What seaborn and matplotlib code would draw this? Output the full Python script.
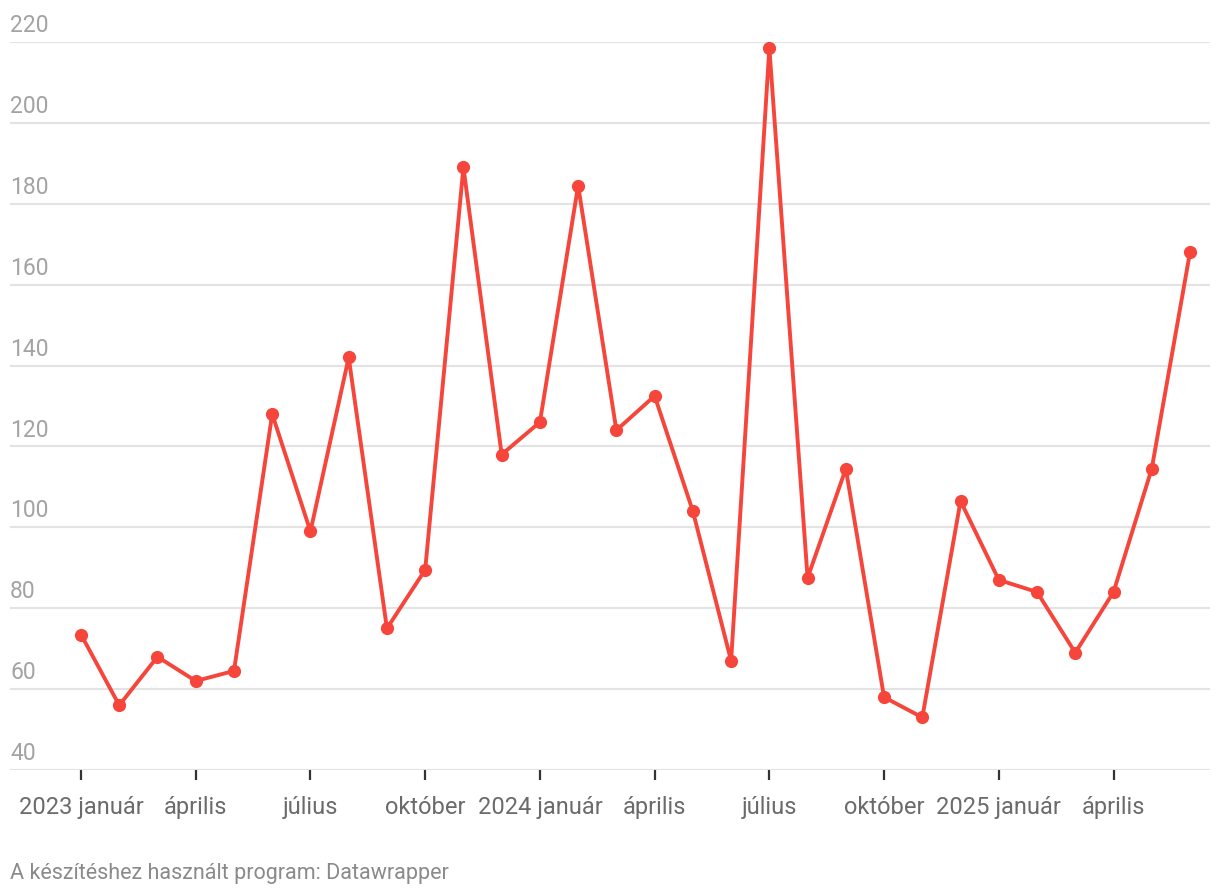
import numpy as np
import pandas as pd
import matplotlib.pyplot as plt
import seaborn as sns

# monthly values, 2023 Jan .. 2025 Jun
months = pd.date_range('2023-01-01', periods=30, freq='MS')
values = [73.5, 56, 68, 62, 64.5, 128, 99, 142, 75, 89.5,
          189, 118, 126, 184.5, 124, 132.5, 104, 67, 218.5, 87.5,
          114.5, 58, 53, 106.5, 87, 84, 69, 84, 114.5, 168]
tick_pos = [0, 3, 6, 9, 12, 15, 18, 21, 24, 27]
tick_labels = ['2023 január', 'április', 'július', 'október', '2024 január',
               'április', 'július', 'október', '2025 január', 'április']
y_ticks = [40, 60, 80, 100, 120, 140, 160, 180, 200, 220]
footer = 'A készítéshez használt program: Datawrapper'

df = pd.DataFrame({'idx': np.arange(len(values)), 'value': values})

sns.set_style('white')
plt.rcParams['font.family'] = ['Roboto', 'DejaVu Sans']

fig = plt.figure(figsize=(12.2, 8.96), dpi=100)
ax = fig.add_axes([10 / 1220, (896 - 770) / 896, 1200 / 1220, 728 / 896])

sns.lineplot(data=df, x='idx', y='value', ax=ax, color='#f6453a', linewidth=2.8,
             marker='o', markersize=9.5, markeredgewidth=0, zorder=3)

ax.set_xlim(-71 / 38.24, 29 + 20 / 38.24)
ax.set_ylim(40, 220)
ax.set_yticks(y_ticks)
ax.set_yticklabels([])
ax.tick_params(axis='y', length=0, left=False)
ax.grid(axis='y', color='#e3e3e3', linewidth=1.5)
ax.grid(axis='x', visible=False)
for s in ax.spines.values():
    s.set_visible(False)

for v in y_ticks:
    ax.text(0, v + 1.2, str(v), transform=ax.get_yaxis_transform(),
            ha='left', va='bottom', fontsize=16.5, color='#a3a3a3', clip_on=False)

ax.set_xticks(tick_pos)
ax.set_xticklabels(tick_labels, fontsize=17, color='#6b6b6b')
ax.tick_params(axis='x', bottom=True, length=7.5, width=1.6, color='#333333',
               pad=11, direction='out')
ax.set_xlabel('')
ax.set_ylabel('')

fig.text(10 / 1220, 1 - 873 / 896, footer, fontsize=15.5, color='#8a8a8a',
         ha='left', va='center')

fig.savefig('out.png', dpi=100)
